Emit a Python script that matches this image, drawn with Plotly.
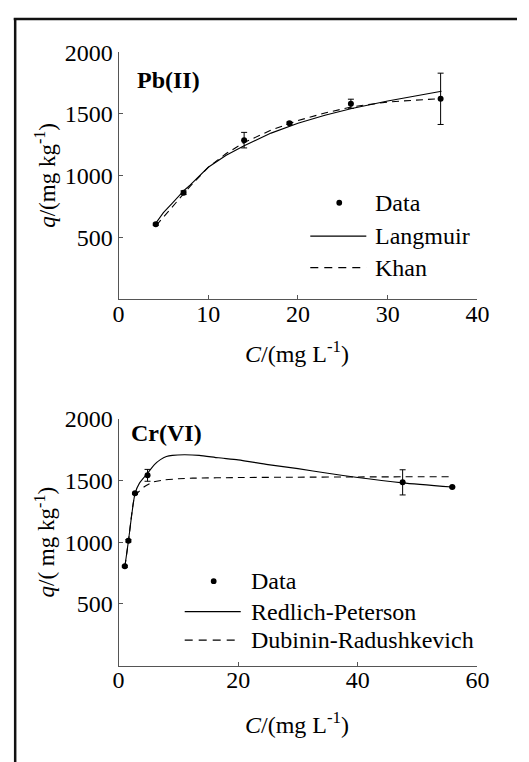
import plotly.graph_objects as go

# ---------------- data ----------------
pb_c = [4.15, 7.25, 14.0, 19.05, 25.9, 35.9]
pb_q = [606, 862, 1288, 1425, 1583, 1623]
pb_err = [9, 15, 63, 10, 37, 208]

pb_fit_c = [4.2, 5, 6, 7.3, 8, 10, 12, 14, 17, 20, 23, 26, 30, 33, 36]
pb_langmuir = [620, 700, 778, 880, 925, 1068, 1165, 1243, 1345, 1425, 1490, 1545, 1605, 1645, 1685]
pb_khan = [597, 665, 742, 855, 915, 1068, 1180, 1268, 1370, 1447, 1508, 1558, 1597, 1612, 1625]

cr_c = [1.05, 1.65, 2.75, 4.85, 47.5, 55.8]
cr_q = [805, 1012, 1397, 1543, 1486, 1448]
cr_err = [8, 10, 8, 48, 102, 6]

cr_rp_c = [1.05, 1.65, 2.75, 3.5, 4.85, 6, 7, 8, 9, 11, 13.5, 16.7, 20, 25, 30, 35, 40, 47.5, 55.8]
cr_rp = [800, 1010, 1395, 1480, 1560, 1630, 1670, 1695, 1705, 1710, 1705, 1685, 1668, 1630, 1597, 1560, 1525, 1482, 1448]
cr_dr_c = [1.05, 1.65, 2.75, 3.5, 4.3, 5.9, 7.6, 10, 12.4, 20, 30, 40, 55.8]
cr_dr = [800, 1005, 1380, 1415, 1450, 1490, 1505, 1515, 1520, 1525, 1528, 1530, 1532]

pb_xticks = [0, 10, 20, 30, 40]
cr_xticks = [0, 20, 40, 60]
y_ticks = [500, 1000, 1500, 2000]

pb_legend = ["Data", "Langmuir", "Khan"]
cr_legend = ["Data", "Redlich-Peterson", "Dubinin-Radushkevich"]

# ---------------- layout helpers ----------------
W, H = 529, 762
FONT = "Times New Roman, Liberation Serif, serif"
FS = 24
FS_V = 23
AX = "#555555"


def px(x):
    return x / W


def py(y):
    return 1 - y / H


fig = go.Figure()

# Pb(II) panel
fig.add_trace(go.Scatter(x=pb_fit_c, y=pb_langmuir, mode="lines",
                         line=dict(color="black", width=1.1), xaxis="x", yaxis="y"))
fig.add_trace(go.Scatter(x=pb_fit_c, y=pb_khan, mode="lines",
                         line=dict(color="black", width=1.1, dash="7px,5px"), xaxis="x", yaxis="y"))
fig.add_trace(go.Scatter(x=pb_c, y=pb_q, mode="markers",
                         marker=dict(color="black", size=6),
                         error_y=dict(type="data", array=pb_err, color="black", thickness=1, width=3),
                         xaxis="x", yaxis="y"))

# Cr(VI) panel
fig.add_trace(go.Scatter(x=cr_rp_c, y=cr_rp, mode="lines",
                         line=dict(color="black", width=1.1, shape="spline", smoothing=0.6),
                         xaxis="x2", yaxis="y2"))
fig.add_trace(go.Scatter(x=cr_dr_c, y=cr_dr, mode="lines",
                         line=dict(color="black", width=1.1, dash="7px,5px", shape="spline", smoothing=0.6),
                         xaxis="x2", yaxis="y2"))
fig.add_trace(go.Scatter(x=cr_c, y=cr_q, mode="markers",
                         marker=dict(color="black", size=6),
                         error_y=dict(type="data", array=cr_err, color="black", thickness=1, width=3),
                         xaxis="x2", yaxis="y2"))

xdom = [px(116.5), px(488)]
axis_common = dict(showgrid=False, zeroline=False, showline=True, linecolor=AX, linewidth=1,
                   ticks="inside", ticklen=4, tickcolor=AX, tickwidth=1,
                   tickfont=dict(family=FONT, size=FS, color="black"))

fig.update_layout(
    width=W, height=H,
    margin=dict(l=0, r=0, t=0, b=0),
    paper_bgcolor="white", plot_bgcolor="white",
    showlegend=False,
    font=dict(family=FONT, size=FS, color="black"),
    xaxis=dict(domain=xdom, range=[0, 40], tickvals=pb_xticks, anchor="y",
               ticklabelstandoff=-7, **axis_common),
    yaxis=dict(domain=[py(291), py(40)], range=[0, 2000], tickvals=y_ticks, anchor="x", **axis_common),
    xaxis2=dict(domain=xdom, range=[0, 60], tickvals=cr_xticks, anchor="y2",
                ticklabelstandoff=-7, **axis_common),
    yaxis2=dict(domain=[py(664), py(413)], range=[0, 2000], tickvals=y_ticks, anchor="x2", **axis_common),
)

annotations = []
shapes = []


def text(x, y, s, xanchor="left", angle=0, size=FS):
    annotations.append(dict(xref="paper", yref="paper", x=px(x), y=py(y), text=s,
                            showarrow=False, xanchor=xanchor, yanchor="middle",
                            textangle=angle,
                            font=dict(family=FONT, size=size, color="black")))


# panel labels
text(134, 68, "<b>Pb(II)</b>")
text(127, 427, "<b>Cr(VI)</b>")

# axis titles
text(41, 165, "<i>q</i>/(mg kg<sup>-1</sup>)", xanchor="center", angle=-90, size=FS_V)
text(41, 538, "<i>q</i>/( mg kg<sup>-1</sup>)", xanchor="center", angle=-90, size=FS_V)
text(301, 345, "<i>C</i>/(mg L<sup>-1</sup>)", xanchor="center")
text(301, 722, "<i>C</i>/(mg L<sup>-1</sup>)", xanchor="center")


def legend(dot_x, text_x, line_x0, line_x1, rows, labels):
    r = 3
    shapes.append(dict(type="circle", xref="paper", yref="paper",
                       x0=px(dot_x - r), x1=px(dot_x + r), y0=py(rows[0] + r), y1=py(rows[0] - r),
                       fillcolor="black", line=dict(color="black", width=0)))
    shapes.append(dict(type="line", xref="paper", yref="paper",
                       x0=px(line_x0), x1=px(line_x1), y0=py(rows[1]), y1=py(rows[1]),
                       line=dict(color="black", width=1.1)))
    shapes.append(dict(type="line", xref="paper", yref="paper",
                       x0=px(line_x0), x1=px(line_x1), y0=py(rows[2]), y1=py(rows[2]),
                       line=dict(color="black", width=1.1, dash="8px,6px")))
    for yy, lab in zip(rows, labels):
        text(text_x, yy, lab)


legend(345, 380, 315, 373, [193, 227, 259], pb_legend)
legend(215, 252, 185, 243, [578, 609, 638], cr_legend)

# outer frame (top and left only)
shapes.append(dict(type="line", xref="paper", yref="paper", x0=px(8), x1=1, y0=py(6), y1=py(6),
                   line=dict(color="#111111", width=2.5)))
shapes.append(dict(type="line", xref="paper", yref="paper", x0=px(9.5), x1=px(9.5), y0=py(5), y1=0,
                   line=dict(color="#111111", width=2.5)))

fig.update_layout(annotations=annotations, shapes=shapes)

fig.write_html("out.html")
